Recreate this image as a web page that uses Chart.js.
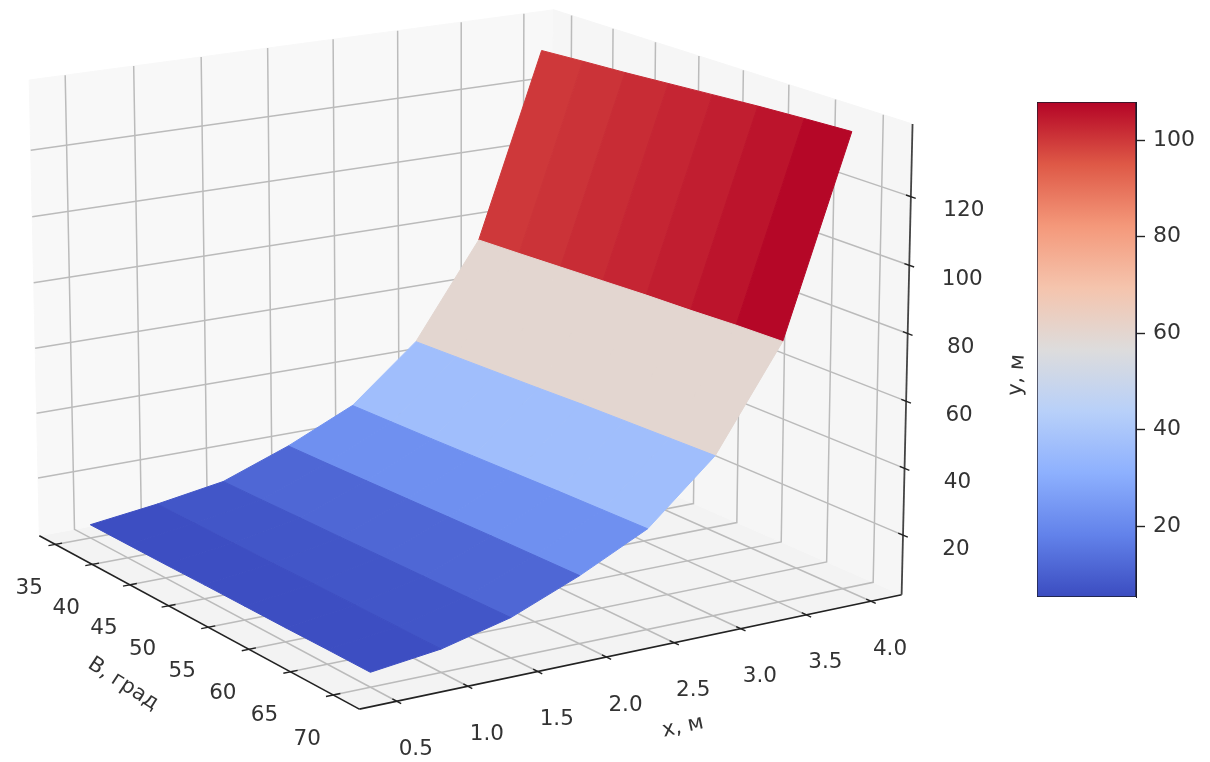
<!DOCTYPE html>
<html>
<head>
<meta charset="utf-8">
<script src="https://cdn.jsdelivr.net/npm/chart.js@4"></script>
<style>
  body { margin: 0; background: #fff; }
  #surface { position: absolute; left: 0; top: 0; }
  #colorbar { position: absolute; left: 1037px; top: 0; }
</style>
</head>
<body>
<canvas id="surface" width="1210" height="762"></canvas>
<canvas id="colorbar" width="173" height="762"></canvas>
<script>
// Data
const betaValues = [35, 40, 45, 50, 55, 60, 65, 70];
const xValues = [0.5, 1.0, 1.5, 2.0, 2.5, 3.0, 3.5, 4.0];
const yAtBeta35 = [6.1, 8.7, 12.0, 19.5, 28.7, 45.5, 74.5, 131.3];
const yAtBeta40 = [6.1, 8.7, 12.2, 19.8, 29.1, 46.1, 75.2, 132.2];
const yAtBeta45 = [6.1, 8.7, 12.5, 20.2, 29.5, 46.7, 76, 133];
const yAtBeta50 = [6.2, 8.7, 12.7, 20.6, 30, 47.3, 76.8, 134];
const yAtBeta55 = [6.2, 8.8, 13, 21, 30.5, 48, 77.6, 135];
const yAtBeta60 = [6.2, 8.8, 13.3, 21.4, 31, 48.5, 78.2, 136];
const yAtBeta65 = [6.3, 8.8, 13.5, 21.7, 31.4, 49, 79, 136.8];
const yAtBeta70 = [6.3, 8.8, 13.8, 22, 31.8, 49.5, 79.5, 137.5];
const surfaceRows = [yAtBeta35, yAtBeta40, yAtBeta45, yAtBeta50, yAtBeta55, yAtBeta60, yAtBeta65, yAtBeta70];

// Colour values of the faces.
// The six lower bands look the same along beta, the top one changes cell by cell.
const bandColorValues = [5.8, 7.6, 11.8, 22, 36.5, 60];
const topBandColorValues = [100, 100.8, 101.8, 102.8, 104, 105.5, 107.5];
const colorbarRange = [5.3, 107.9];

const betaTicks = [35, 40, 45, 50, 55, 60, 65, 70];
const xTicks = [0.5, 1.0, 1.5, 2.0, 2.5, 3.0, 3.5, 4.0];
const yTicks = [20, 40, 60, 80, 100, 120];
const colorbarTicks = [20, 40, 60, 80, 100];

// Axis limits of the 3D box
const betaLim = [32.8, 73];
const xLim = [0.24, 4.24];
const yLim = [2, 141];

// Camera, same idea as matplotlib's view_init
const view = { elev: 15.5, azim: -32.5, dist: 10, scale: 531, cx: 463, cy: 336 };
const boxSize = [1.19, 1.19, 0.905];

const coolwarm = [
  [59, 76, 192], [98, 130, 234], [141, 176, 254], [184, 208, 249], [221, 220, 220],
  [245, 196, 173], [244, 152, 122], [222, 88, 70], [180, 4, 38]
];

const tickFont = '21.5px "DejaVu Sans"';
const titleFont = '21px "DejaVu Sans"';
const textColor = '#333';

function project(beta, x, y) {
  const el = view.elev * Math.PI / 180;
  const az = view.azim * Math.PI / 180;
  const px = ((beta - betaLim[0]) / (betaLim[1] - betaLim[0]) - 0.5) * boxSize[0];
  const py = ((x - xLim[0]) / (xLim[1] - xLim[0]) - 0.5) * boxSize[1];
  const pz = ((y - yLim[0]) / (yLim[1] - yLim[0]) - 0.5) * boxSize[2];
  const right = -Math.sin(az) * px + Math.cos(az) * py;
  const up = -Math.sin(el) * Math.cos(az) * px - Math.sin(el) * Math.sin(az) * py + Math.cos(el) * pz;
  const depth = Math.cos(el) * Math.cos(az) * px + Math.cos(el) * Math.sin(az) * py + Math.sin(el) * pz;
  const f = view.dist / (view.dist - depth);
  return { x: view.cx + view.scale * f * right, y: view.cy - view.scale * f * up };
}

function colorAt(v) {
  const t = (v - colorbarRange[0]) / (colorbarRange[1] - colorbarRange[0]);
  const pos = Math.min(Math.max(t, 0), 1) * (coolwarm.length - 1);
  const i = Math.min(Math.floor(pos), coolwarm.length - 2);
  const c = coolwarm[i].map((val, k) => Math.round(val + (coolwarm[i + 1][k] - val) * (pos - i)));
  return `rgb(${c[0]},${c[1]},${c[2]})`;
}

const datasets = [];

function addShape(points, color) {
  datasets.push({
    data: points.concat([points[0]]),
    showLine: true,
    fill: 'shape',
    backgroundColor: color,
    borderColor: color,
    borderWidth: 1,
    pointRadius: 0,
    order: -datasets.length
  });
}

function addLine(points, color, width) {
  datasets.push({
    data: points,
    showLine: true,
    fill: false,
    borderColor: color,
    borderWidth: width,
    pointRadius: 0,
    order: -datasets.length
  });
}

// Panes
const [b0, b1] = betaLim;
const [x0, x1] = xLim;
const [y0, y1] = yLim;
addShape([project(b0, x0, y0), project(b1, x0, y0), project(b1, x1, y0), project(b0, x1, y0)], '#f3f3f3');
addShape([project(b0, x0, y0), project(b0, x1, y0), project(b0, x1, y1), project(b0, x0, y1)], '#f8f8f8');
addShape([project(b0, x1, y0), project(b1, x1, y0), project(b1, x1, y1), project(b0, x1, y1)], '#f6f6f6');

// Grid lines
const gridColor = '#bbbbbb';
betaTicks.forEach(b => {
  addLine([project(b, x0, y0), project(b, x1, y0), project(b, x1, y1)], gridColor, 1.5);
});
xTicks.forEach(x => {
  addLine([project(b1, x, y0), project(b0, x, y0), project(b0, x, y1)], gridColor, 1.5);
});
yTicks.forEach(y => {
  addLine([project(b0, x0, y), project(b0, x1, y), project(b1, x1, y)], gridColor, 1.5);
});

// Axis lines and tick marks
const axisColor = '#222';
addLine([project(b0, x0, y0), project(b1, x0, y0)], axisColor, 1.6);
addLine([project(b1, x0, y0), project(b1, x1, y0)], axisColor, 1.6);
addLine([project(b1, x1, y0), project(b1, x1, y1)], '#444', 1.8);
betaTicks.forEach(b => addLine([project(b, x0 - 0.05, y0), project(b, x0 + 0.05, y0)], axisColor, 1.4));
xTicks.forEach(x => addLine([project(b1 + 0.5, x, y0), project(b1 - 0.5, x, y0)], axisColor, 1.4));
yTicks.forEach(y => addLine([project(b1 + 0.5, x1, y), project(b1 - 0.5, x1, y)], axisColor, 1.4));

// Surface: one flat quad per cell, back rows first
for (let j = xValues.length - 2; j >= 0; j--) {
  for (let i = 0; i < betaValues.length - 1; i++) {
    const value = j < bandColorValues.length ? bandColorValues[j] : topBandColorValues[i];
    addShape([
      project(betaValues[i], xValues[j], surfaceRows[i][j]),
      project(betaValues[i + 1], xValues[j], surfaceRows[i + 1][j]),
      project(betaValues[i + 1], xValues[j + 1], surfaceRows[i + 1][j + 1]),
      project(betaValues[i], xValues[j + 1], surfaceRows[i][j + 1])
    ], colorAt(value));
  }
}

// Text around the box
const labels = [];
betaTicks.forEach(b => {
  const p = project(b, x0, y0);
  labels.push({ text: String(b), x: p.x - 26, y: p.y + 44, font: tickFont, rot: 0 });
});
xTicks.forEach(x => {
  const p = project(b1, x, y0);
  labels.push({ text: x.toFixed(1), x: p.x + 19, y: p.y + 48, font: tickFont, rot: 0 });
});
yTicks.forEach(y => {
  const p = project(b1, x1, y);
  labels.push({ text: String(y), x: p.x + 53, y: p.y + 14, font: tickFont, rot: 0 });
});
labels.push({ text: 'В, град', x: 123, y: 684, font: titleFont, rot: 33 });
labels.push({ text: 'х, м', x: 683, y: 727, font: titleFont, rot: -12 });
labels.push({ text: 'у, м', x: 1017, y: 375, font: titleFont, rot: -86 });

const boxLabels = {
  id: 'boxLabels',
  afterDraw(chart) {
    const { ctx, scales } = chart;
    ctx.save();
    ctx.fillStyle = textColor;
    ctx.textAlign = 'center';
    ctx.textBaseline = 'middle';
    labels.forEach(l => {
      ctx.save();
      ctx.translate(scales.x.getPixelForValue(l.x), scales.y.getPixelForValue(l.y));
      ctx.rotate(l.rot * Math.PI / 180);
      ctx.font = l.font;
      ctx.fillText(l.text, 0, 0);
      ctx.restore();
    });
    ctx.restore();
  }
};

new Chart(document.getElementById('surface'), {
  type: 'scatter',
  data: { datasets },
  options: {
    responsive: false,
    animation: false,
    layout: { padding: 0 },
    plugins: { legend: { display: false }, tooltip: { enabled: false } },
    scales: {
      x: { type: 'linear', min: 0, max: 1210, display: false },
      y: { type: 'linear', min: 0, max: 762, reverse: true, display: false }
    }
  },
  plugins: [boxLabels]
});

// Colorbar
const [vMin, vMax] = colorbarRange;
new Chart(document.getElementById('colorbar'), {
  type: 'bar',
  data: {
    labels: [''],
    datasets: [{
      data: [[vMin, vMax]],
      backgroundColor(context) {
        const { chartArea } = context.chart;
        if (!chartArea) return '#3b4cc0';
        const yScale = context.chart.scales.y;
        const g = context.chart.ctx.createLinearGradient(0, yScale.getPixelForValue(vMin), 0, yScale.getPixelForValue(vMax));
        coolwarm.forEach((c, k) => g.addColorStop(k / (coolwarm.length - 1), `rgb(${c[0]},${c[1]},${c[2]})`));
        return g;
      },
      borderColor: '#1a1a2a',
      borderWidth: 1,
      borderSkipped: false,
      barPercentage: 1,
      categoryPercentage: 1
    }]
  },
  options: {
    responsive: false,
    animation: false,
    layout: { padding: { top: 102, bottom: 165, left: 0, right: 0 } },
    plugins: { legend: { display: false }, tooltip: { enabled: false } },
    scales: {
      x: { display: false },
      y: {
        position: 'right',
        min: vMin,
        max: vMax,
        afterBuildTicks(scale) { scale.ticks = colorbarTicks.map(value => ({ value })); },
        afterFit(scale) { scale.width = 74; },
        grid: { drawOnChartArea: false, tickLength: 9, tickColor: '#222', tickWidth: 1.4 },
        border: { color: '#1a1a2a' },
        ticks: { color: textColor, font: { family: 'DejaVu Sans', size: 22 }, padding: 8 }
      }
    }
  }
});
</script>
</body>
</html>
